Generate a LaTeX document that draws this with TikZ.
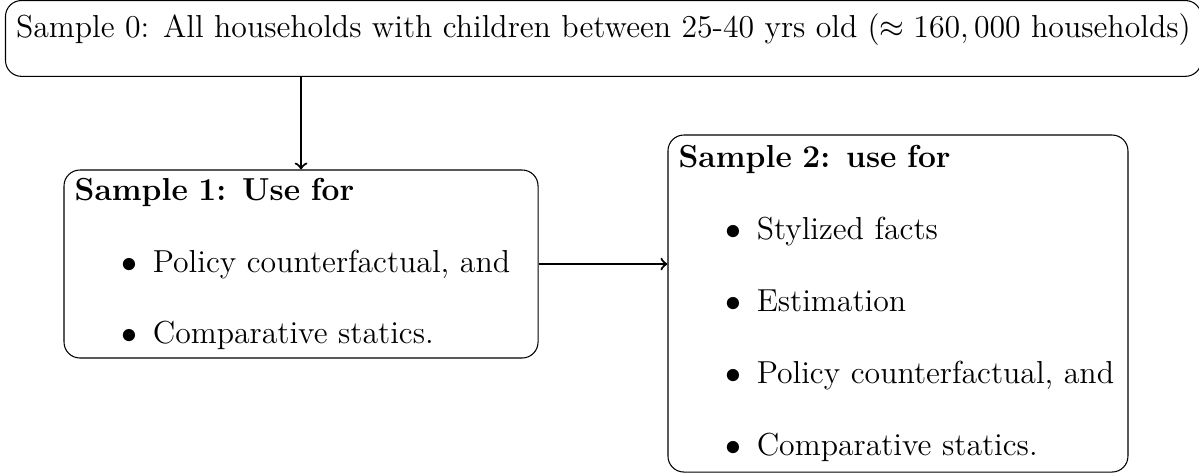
\documentclass[tikz,border=0pt,12pt]{standalone}
\usetikzlibrary{positioning}
\tikzset{
	samplebox/.style={draw, rounded corners=6pt, align=left, inner xsep=4pt, inner ysep=0pt},
	flow/.style={->, thick},
}
\newcommand{\bitem}[1]{\hspace*{17.6pt}\makebox[11.9pt][l]{$\bullet$}#1}
\begin{document}
\begin{tikzpicture}
			\useasboundingbox (0,0) rectangle (15.9,6.286);
			\node[samplebox, anchor=north west, minimum width=15.78cm, inner ysep=4.9pt, text height=9pt, text depth=9.8pt] (sample0) at (0.066,6.286) {Sample 0: All households with children between 25-40 yrs old ($\approx 160,000$ households)};
			\node[samplebox, minimum width=6.286cm, minimum height=2.493cm, text width=6.286cm-8pt] (sample1) at (3.992,2.785) {\textbf{Sample 1: Use for}\\[12.6pt]
				\bitem{Policy counterfactual, and}\\[12.6pt]
				\bitem{Comparative statics.}};
			\node[samplebox, minimum width=6.1cm, minimum height=4.469cm, text width=6.1cm-8pt] (sample2) at (11.908,2.261) {\textbf{Sample 2: use for}\\[12.6pt]
				\bitem{Stylized facts}\\[12.6pt]
				\bitem{Estimation}\\[12.6pt]
				\bitem{Policy counterfactual, and}\\[12.6pt]
				\bitem{Comparative statics.}};
			\draw[flow] (sample0.south -| sample1.north) -- (sample1.north);
			\draw[flow] (sample1.east) -- (sample1.east -| sample2.west);
\end{tikzpicture}
\end{document}
